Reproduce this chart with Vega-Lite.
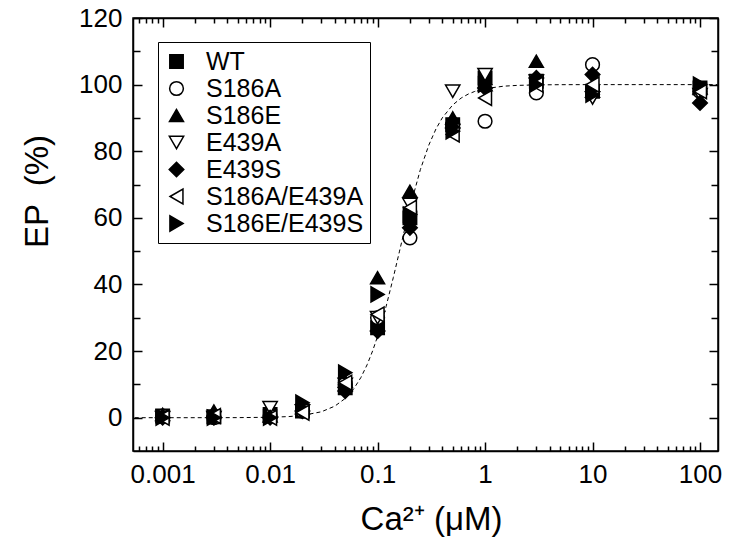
{
  "$schema": "https://vega.github.io/schema/vega-lite/v6.json",
  "width": 585,
  "height": 433,
  "autosize": {"type": "none"},
  "padding": {"left": 133, "top": 18, "right": 12, "bottom": 98},
  "config": {
    "font": "Liberation Sans",
    "view": {"stroke": "black", "strokeWidth": 1.5},
    "axis": {
      "grid": false,
      "domainColor": "black",
      "domainWidth": 1.5,
      "tickColor": "black",
      "tickWidth": 1.5,
      "labelColor": "black",
      "labelFont": "Liberation Sans",
      "labelFontSize": 26,
      "titleFont": "Liberation Sans",
      "titleFontSize": 33,
      "titleFontWeight": "normal",
      "titleColor": "black",
      "labelOverlap": false,
      "labelFlush": false
    }
  },
  "datasets": {
    "curve": [
      {"ca": 0.00055, "ep": 0}, {"ca": 0.001, "ep": 0}, {"ca": 0.002, "ep": 0}, {"ca": 0.005, "ep": 0.02},
      {"ca": 0.01, "ep": 0.13}, {"ca": 0.015, "ep": 0.34}, {"ca": 0.02, "ep": 0.68}, {"ca": 0.03, "ep": 1.77},
      {"ca": 0.04, "ep": 3.47}, {"ca": 0.05, "ep": 5.78}, {"ca": 0.06, "ep": 8.67}, {"ca": 0.07, "ep": 12.09},
      {"ca": 0.08, "ep": 15.93}, {"ca": 0.09, "ep": 20.09}, {"ca": 0.1, "ep": 24.45}, {"ca": 0.12, "ep": 33.39},
      {"ca": 0.14, "ep": 42.06}, {"ca": 0.16, "ep": 50}, {"ca": 0.18, "ep": 57.02}, {"ca": 0.2, "ep": 63.08},
      {"ca": 0.25, "ep": 74.48}, {"ca": 0.3, "ep": 81.89}, {"ca": 0.35, "ep": 86.75}, {"ca": 0.4, "ep": 90.02},
      {"ca": 0.5, "ep": 93.9}, {"ca": 0.6, "ep": 95.98}, {"ca": 0.7, "ep": 97.19}, {"ca": 0.8, "ep": 97.94},
      {"ca": 1, "ep": 98.79}, {"ca": 1.5, "ep": 99.54}, {"ca": 2, "ep": 99.77}, {"ca": 3, "ep": 99.91},
      {"ca": 5, "ep": 99.98}, {"ca": 10, "ep": 100}, {"ca": 30, "ep": 100}, {"ca": 100, "ep": 100}, {"ca": 145, "ep": 100}
    ],
    "points": [
      {"ca": 0.001, "ep": 0.5, "s": "WT"}, {"ca": 0.003, "ep": 0.3, "s": "WT"}, {"ca": 0.01, "ep": 1, "s": "WT"}, {"ca": 0.02, "ep": 2, "s": "WT"},
      {"ca": 0.05, "ep": 9, "s": "WT"}, {"ca": 0.1, "ep": 27, "s": "WT"}, {"ca": 0.2, "ep": 60, "s": "WT"}, {"ca": 0.5, "ep": 88, "s": "WT"},
      {"ca": 1, "ep": 102, "s": "WT"}, {"ca": 3, "ep": 101, "s": "WT"}, {"ca": 10, "ep": 98, "s": "WT"}, {"ca": 100, "ep": 99, "s": "WT"},
      {"ca": 0.001, "ep": 0.5, "s": "S186A"}, {"ca": 0.003, "ep": 0, "s": "S186A"}, {"ca": 0.01, "ep": 0.5, "s": "S186A"}, {"ca": 0.02, "ep": 2, "s": "S186A"},
      {"ca": 0.05, "ep": 10, "s": "S186A"}, {"ca": 0.1, "ep": 30, "s": "S186A"}, {"ca": 0.2, "ep": 54, "s": "S186A"}, {"ca": 0.5, "ep": 88, "s": "S186A"},
      {"ca": 1, "ep": 89, "s": "S186A"}, {"ca": 3, "ep": 97.5, "s": "S186A"}, {"ca": 10, "ep": 106, "s": "S186A"}, {"ca": 100, "ep": 98, "s": "S186A"},
      {"ca": 0.001, "ep": 1, "s": "S186E"}, {"ca": 0.003, "ep": 2, "s": "S186E"}, {"ca": 0.01, "ep": 0.5, "s": "S186E"}, {"ca": 0.02, "ep": 3, "s": "S186E"},
      {"ca": 0.05, "ep": 11, "s": "S186E"}, {"ca": 0.1, "ep": 42, "s": "S186E"}, {"ca": 0.2, "ep": 68, "s": "S186E"}, {"ca": 0.5, "ep": 90, "s": "S186E"},
      {"ca": 1, "ep": 100, "s": "S186E"}, {"ca": 3, "ep": 107, "s": "S186E"}, {"ca": 10, "ep": 98, "s": "S186E"}, {"ca": 100, "ep": 99, "s": "S186E"},
      {"ca": 0.001, "ep": 0, "s": "E439A"}, {"ca": 0.003, "ep": 0, "s": "E439A"}, {"ca": 0.01, "ep": 3, "s": "E439A"}, {"ca": 0.02, "ep": 2, "s": "E439A"},
      {"ca": 0.05, "ep": 10, "s": "E439A"}, {"ca": 0.1, "ep": 30, "s": "E439A"}, {"ca": 0.2, "ep": 64, "s": "E439A"}, {"ca": 0.5, "ep": 98, "s": "E439A"},
      {"ca": 1, "ep": 103, "s": "E439A"}, {"ca": 3, "ep": 101, "s": "E439A"}, {"ca": 10, "ep": 96, "s": "E439A"}, {"ca": 100, "ep": 97, "s": "E439A"},
      {"ca": 0.001, "ep": 0, "s": "E439S"}, {"ca": 0.003, "ep": 0, "s": "E439S"}, {"ca": 0.01, "ep": 0, "s": "E439S"}, {"ca": 0.02, "ep": 2, "s": "E439S"},
      {"ca": 0.05, "ep": 8, "s": "E439S"}, {"ca": 0.1, "ep": 26, "s": "E439S"}, {"ca": 0.2, "ep": 57, "s": "E439S"}, {"ca": 0.5, "ep": 87, "s": "E439S"},
      {"ca": 1, "ep": 99, "s": "E439S"}, {"ca": 3, "ep": 102, "s": "E439S"}, {"ca": 10, "ep": 103, "s": "E439S"}, {"ca": 100, "ep": 94.5, "s": "E439S"},
      {"ca": 0.001, "ep": 0, "s": "S186A/E439A"}, {"ca": 0.003, "ep": 0.5, "s": "S186A/E439A"}, {"ca": 0.01, "ep": 0, "s": "S186A/E439A"}, {"ca": 0.02, "ep": 1.5, "s": "S186A/E439A"},
      {"ca": 0.05, "ep": 10.5, "s": "S186A/E439A"}, {"ca": 0.1, "ep": 31, "s": "S186A/E439A"}, {"ca": 0.2, "ep": 63, "s": "S186A/E439A"}, {"ca": 0.5, "ep": 85, "s": "S186A/E439A"},
      {"ca": 1, "ep": 96, "s": "S186A/E439A"}, {"ca": 3, "ep": 100, "s": "S186A/E439A"}, {"ca": 10, "ep": 100, "s": "S186A/E439A"}, {"ca": 100, "ep": 98, "s": "S186A/E439A"},
      {"ca": 0.001, "ep": 0, "s": "S186E/E439S"}, {"ca": 0.003, "ep": 0, "s": "S186E/E439S"}, {"ca": 0.01, "ep": 0, "s": "S186E/E439S"}, {"ca": 0.02, "ep": 4.5, "s": "S186E/E439S"},
      {"ca": 0.05, "ep": 13.5, "s": "S186E/E439S"}, {"ca": 0.1, "ep": 37, "s": "S186E/E439S"}, {"ca": 0.2, "ep": 61, "s": "S186E/E439S"}, {"ca": 0.5, "ep": 86, "s": "S186E/E439S"},
      {"ca": 1, "ep": 100, "s": "S186E/E439S"}, {"ca": 3, "ep": 100, "s": "S186E/E439S"}, {"ca": 10, "ep": 97, "s": "S186E/E439S"}, {"ca": 100, "ep": 100, "s": "S186E/E439S"}
    ]
  },
  "layer": [
    {
      "data": {"name": "curve"},
      "mark": {"type": "line", "stroke": "black", "strokeWidth": 1, "strokeDash": [4, 3], "clip": true},
      "encoding": {
        "x": {
          "field": "ca", "type": "quantitative",
          "scale": {"type": "log", "domain": [0.00053, 147], "nice": false, "zero": false},
          "axis": {
            "orient": "top", "labels": false, "title": null,
            "values": [0.0006,0.0007,0.0008,0.0009,0.001,0.002,0.003,0.004,0.005,0.006,0.007,0.008,0.009,0.01,0.02,0.03,0.04,0.05,0.06,0.07,0.08,0.09,0.1,0.2,0.3,0.4,0.5,0.6,0.7,0.8,0.9,1,2,3,4,5,6,7,8,9,10,20,30,40,50,60,70,80,90,100],
            "tickSize": {"condition": {"test": "abs(log(datum.value)/LN10 - round(log(datum.value)/LN10)) < 0.001", "value": -9}, "value": -5}
          }
        },
        "y": {
          "field": "ep", "type": "quantitative",
          "scale": {"domain": [-10, 120], "nice": false, "zero": false},
          "axis": {
            "orient": "right", "labels": false, "title": null,
            "values": [0,10,20,30,40,50,60,70,80,90,100,110,120],
            "tickSize": {"condition": {"test": "datum.value % 20 == 0", "value": -9}, "value": -7}
          }
        }
      }
    },
    {
      "data": {"name": "points"},
      "mark": {"type": "point", "stroke": "black", "strokeWidth": 1.5, "opacity": 1, "fillOpacity": 1, "strokeOpacity": 1},
      "encoding": {
        "x": {
          "field": "ca", "type": "quantitative",
          "axis": {
            "orient": "bottom",
            "values": [0.0006,0.0007,0.0008,0.0009,0.001,0.002,0.003,0.004,0.005,0.006,0.007,0.008,0.009,0.01,0.02,0.03,0.04,0.05,0.06,0.07,0.08,0.09,0.1,0.2,0.3,0.4,0.5,0.6,0.7,0.8,0.9,1,2,3,4,5,6,7,8,9,10,20,30,40,50,60,70,80,90,100],
            "format": "~g",
            "labelExpr": "abs(log(datum.value)/LN10 - round(log(datum.value)/LN10)) < 0.001 ? datum.label : ''",
            "tickSize": {"condition": {"test": "abs(log(datum.value)/LN10 - round(log(datum.value)/LN10)) < 0.001", "value": -9}, "value": -5},
            "labelPadding": 19,
            "title": "Ca²⁺ (μM)",
            "titleX": 298,
            "titlePadding": 12
          }
        },
        "y": {
          "field": "ep", "type": "quantitative",
          "axis": {
            "orient": "left",
            "values": [0,10,20,30,40,50,60,70,80,90,100,110,120],
            "labelExpr": "datum.value % 20 == 0 ? datum.label : ''",
            "tickSize": {"condition": {"test": "datum.value % 20 == 0", "value": -9}, "value": -7},
            "labelPadding": 20,
            "title": "EP \u00a0(%)",
            "titleY": 173,
            "titlePadding": 24
          }
        },
        "shape": {
          "field": "s", "type": "nominal",
          "scale": {
            "domain": ["WT", "S186A", "S186E", "E439A", "E439S", "S186A/E439A", "S186E/E439S"],
            "range": ["square", "circle", "triangle-up", "triangle-down", "diamond", "triangle-left", "triangle-right"]
          },
          "legend": {
            "orient": "none", "legendX": 25, "legendY": 24, "title": null,
            "strokeColor": "black", "fillColor": "white", "padding": 6,
            "labelFontSize": 25, "labelColor": "black", "labelFont": "Liberation Sans",
            "labelOffset": 17, "rowPadding": 0, "clipHeight": 27, "labelLimit": 400,
            "symbolStrokeColor": "black", "symbolStrokeWidth": 1.5
          }
        },
        "fill": {
          "field": "s", "type": "nominal",
          "scale": {
            "domain": ["WT", "S186A", "S186E", "E439A", "E439S", "S186A/E439A", "S186E/E439S"],
            "range": ["black", "white", "black", "white", "black", "white", "black"]
          }
        },
        "size": {
          "field": "s", "type": "nominal",
          "scale": {
            "domain": ["WT", "S186A", "S186E", "E439A", "E439S", "S186A/E439A", "S186E/E439S"],
            "range": [180, 230, 350, 340, 340, 340, 340]
          }
        }
      }
    }
  ],
  "resolve": {"axis": {"x": "independent", "y": "independent"}}
}
